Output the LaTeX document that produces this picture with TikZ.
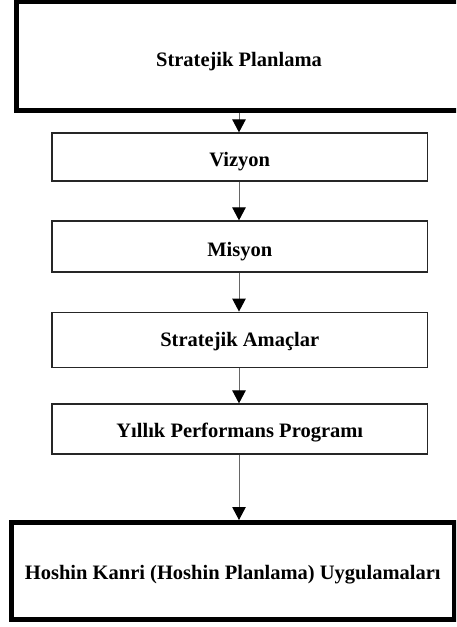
\documentclass[tikz,border=0pt]{standalone}
\usepackage{fontspec}
\setmainfont{Liberation Serif}
\usetikzlibrary{arrows.meta}
\begin{document}
\begin{tikzpicture}[x=1pt,y=-1pt,
  boxthin/.style={draw=black!85, line width=1.3pt, fill=white, inner sep=0pt,
     font=\fontsize{20.5}{24}\selectfont\bfseries, text depth=0pt},
  boxthick/.style={draw=black, line width=5pt, fill=white, inner sep=0pt,
     font=\fontsize{20.5}{24}\selectfont\bfseries, text depth=0pt},
  conn/.style={draw=black!60, line width=1pt,
     -{Triangle[width=13.5pt,length=13pt,color=black,fill=black]}}]
\useasboundingbox (0,0) rectangle (456,627);
\clip (0,0) rectangle (456,627);
\fill[white] (0,0) rectangle (456,627);
\node[boxthick, minimum width=463.5pt, minimum height=109.5pt, text height=22pt] (sp) at (248.25,55.75) {\hspace*{-18.5pt}Stratejik Planlama};
\node[boxthin, minimum width=375.5pt, minimum height=48pt, text height=19.4pt] (viz) at (239.75,157) {Vizyon};
\node[boxthin, minimum width=375.5pt, minimum height=51pt, text height=20.4pt] (mis) at (239.75,246.5) {Misyon};
\node[boxthin, minimum width=375.5pt, minimum height=55pt, text height=14pt] (sa) at (239.75,339.7) {Stratejik Amaçlar};
\node[boxthin, minimum width=375.5pt, minimum height=50pt, text height=16pt] (ypp) at (239.75,429) {Yıllık Performans Programı};
\node[boxthick, minimum width=442.5pt, minimum height=96.5pt, text height=18pt] (hk) at (232.75,570.75) {Hoshin Kanri (Hoshin Planlama) Uygulamaları};
\coordinate (ax) at (239,0);
\draw[conn] (sp.south -| ax) -- (viz.north -| ax);
\draw[conn] (viz.south -| ax) -- (mis.north -| ax);
\draw[conn] (mis.south -| ax) -- (sa.north -| ax);
\draw[conn] (sa.south -| ax) -- (ypp.north -| ax);
\draw[conn] (ypp.south -| ax) -- (hk.north -| ax);
\end{tikzpicture}
\end{document}
